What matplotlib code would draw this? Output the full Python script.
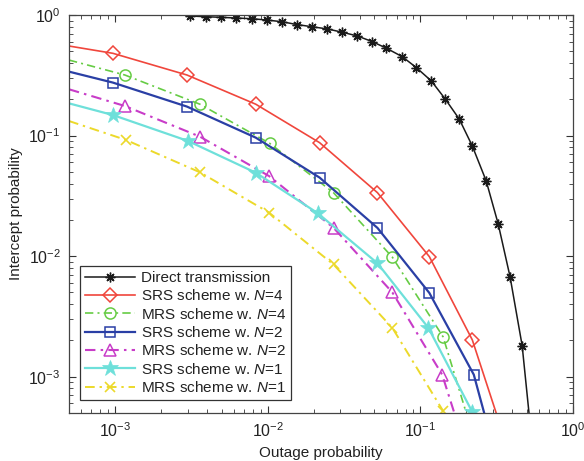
import matplotlib
matplotlib.use("Agg")
import matplotlib.pyplot as plt
from matplotlib.ticker import LogLocator, NullFormatter

plt.rcParams['font.family'] = ['Liberation Sans', 'DejaVu Sans']
plt.rcParams['mathtext.fontset'] = 'custom'
plt.rcParams['mathtext.rm'] = 'Liberation Sans'
plt.rcParams['mathtext.it'] = 'Liberation Sans:italic'
plt.rcParams['mathtext.default'] = 'regular'

# ---------------- data ----------------
direct_x = [0.00309, 0.00394, 0.00493, 0.00618, 0.00785, 0.00984, 0.01236, 0.01549,
            0.01941, 0.02466, 0.0309, 0.0387, 0.0485, 0.0600, 0.0762, 0.0942, 0.118,
            0.1456, 0.1799, 0.2188, 0.270, 0.3236, 0.387, 0.4645, 0.515]
direct_y = [0.981, 0.968, 0.957, 0.944, 0.932, 0.909, 0.880, 0.834, 0.800, 0.766,
            0.719, 0.670, 0.601, 0.530, 0.451, 0.366, 0.284, 0.201, 0.137, 0.0822,
            0.0421, 0.0185, 0.00675, 0.00181, 0.0005]

srs4_x = [0.0005, 0.00097, 0.00296, 0.00836, 0.0219, 0.0524, 0.1146, 0.219, 0.314]
srs4_y = [0.553, 0.481, 0.318, 0.182, 0.0873, 0.0336, 0.0099, 0.00202, 0.0005]

mrs4_x = [0.0005, 0.00116, 0.0036, 0.0103, 0.027, 0.0656, 0.141, 0.200]
mrs4_y = [0.423, 0.318, 0.182, 0.0863, 0.0336, 0.0098, 0.00214, 0.0005]

srs2_x = [0.0005, 0.00097, 0.00296, 0.00836, 0.0219, 0.0524, 0.1146, 0.224, 0.262]
srs2_y = [0.339, 0.275, 0.174, 0.0961, 0.0448, 0.01714, 0.00495, 0.00104, 0.0005]

mrs2_x = [0.0005, 0.00116, 0.0036, 0.0102, 0.027, 0.0656, 0.139, 0.167]
mrs2_y = [0.242, 0.176, 0.098, 0.0462, 0.0172, 0.0050, 0.00104, 0.0005]

srs1_x = [0.0005, 0.00097, 0.00301, 0.00836, 0.0213, 0.0524, 0.113, 0.219]
srs1_y = [0.185, 0.148, 0.0902, 0.0492, 0.0227, 0.00873, 0.00254, 0.00051]

mrs1_x = [0.0005, 0.00118, 0.0036, 0.0102, 0.027, 0.0656, 0.141]
mrs1_y = [0.132, 0.092, 0.0496, 0.0230, 0.00853, 0.00254, 0.00052]

labels = ['Direct transmission',
          'SRS scheme w. $\\mathit{N}$=4', 'MRS scheme w. $\\mathit{N}$=4',
          'SRS scheme w. $\\mathit{N}$=2', 'MRS scheme w. $\\mathit{N}$=2',
          'SRS scheme w. $\\mathit{N}$=1', 'MRS scheme w. $\\mathit{N}$=1']

# ---------------- figure ----------------
fig = plt.figure(figsize=(5.84, 4.61), dpi=100)
ax = fig.add_axes([69/584, 48/461, 504/584, 398/461])

dashdot = (0, (5, 2.5, 1.2, 2.5))

ax.plot(direct_x, direct_y, color='#1a1a1a', lw=1.1, marker=(8, 2, 0), ms=7,
        mew=1.0, markevery=slice(0, len(direct_x) - 1), label=labels[0])
ax.plot(srs4_x, srs4_y, color='#f0463c', lw=1.2, ls='-', marker='D', ms=7,
        mfc='none', mew=1.1, markevery=slice(1, len(srs4_x) - 1), label=labels[1])
ax.plot(mrs4_x, mrs4_y, color='#66cc44', lw=1.2, ls=dashdot, marker='o', ms=8,
        mfc='none', mew=1.1, markevery=slice(1, len(mrs4_x) - 1), label=labels[2])
ax.plot(srs2_x, srs2_y, color='#2a3fa5', lw=1.6, ls='-', marker='s', ms=7.5,
        mfc='none', mew=1.1, markevery=slice(1, len(srs2_x) - 1), label=labels[3])
ax.plot(mrs2_x, mrs2_y, color='#c83cc8', lw=1.5, ls=dashdot, marker='^', ms=9,
        mfc='none', mew=1.1, markevery=slice(1, len(mrs2_x) - 1), label=labels[4])
ax.plot(srs1_x, srs1_y, color='#6ee0da', lw=1.6, ls='-', marker='*', ms=12,
        mew=0.5, markevery=slice(1, len(srs1_x)), label=labels[5])
ax.plot(mrs1_x, mrs1_y, color='#ecd92a', lw=1.4, ls=dashdot, marker='x', ms=7,
        mew=1.2, markevery=slice(1, len(mrs1_x)), label=labels[6])

ax.set_xscale('log')
ax.set_yscale('log')
ax.set_xlim(5e-4, 1)
ax.set_ylim(5e-4, 1)

ax.xaxis.set_major_locator(LogLocator(base=10, numticks=10))
ax.yaxis.set_major_locator(LogLocator(base=10, numticks=10))
ax.xaxis.set_minor_locator(LogLocator(base=10, subs=range(2, 10), numticks=20))
ax.yaxis.set_minor_locator(LogLocator(base=10, subs=range(2, 10), numticks=20))
ax.xaxis.set_minor_formatter(NullFormatter())
ax.yaxis.set_minor_formatter(NullFormatter())

ax.tick_params(which='both', direction='in', top=True, right=True, colors='#333333',
               labelcolor='#222222', labelsize=11.5)
ax.tick_params(which='major', length=5, width=0.8, pad=6)
ax.tick_params(which='minor', length=3, width=0.6)
for s in ax.spines.values():
    s.set_color('#444444')
    s.set_linewidth(0.9)

ax.set_xlabel('Outage probability', fontsize=11, color='#222222', labelpad=4)
ax.set_ylabel('Intercept probability', fontsize=11, color='#222222', labelpad=4)

leg = ax.legend(loc='lower left', bbox_to_anchor=(0.012, 0.02), fontsize=11,
                handlelength=3.3, handletextpad=0.35, labelspacing=0.22,
                borderpad=0.35, borderaxespad=0.3, fancybox=False, framealpha=1)
leg.get_frame().set_edgecolor('#333333')
leg.get_frame().set_linewidth(0.9)
for t in leg.get_texts():
    t.set_color('#222222')

fig.savefig('out.png', dpi=100)
